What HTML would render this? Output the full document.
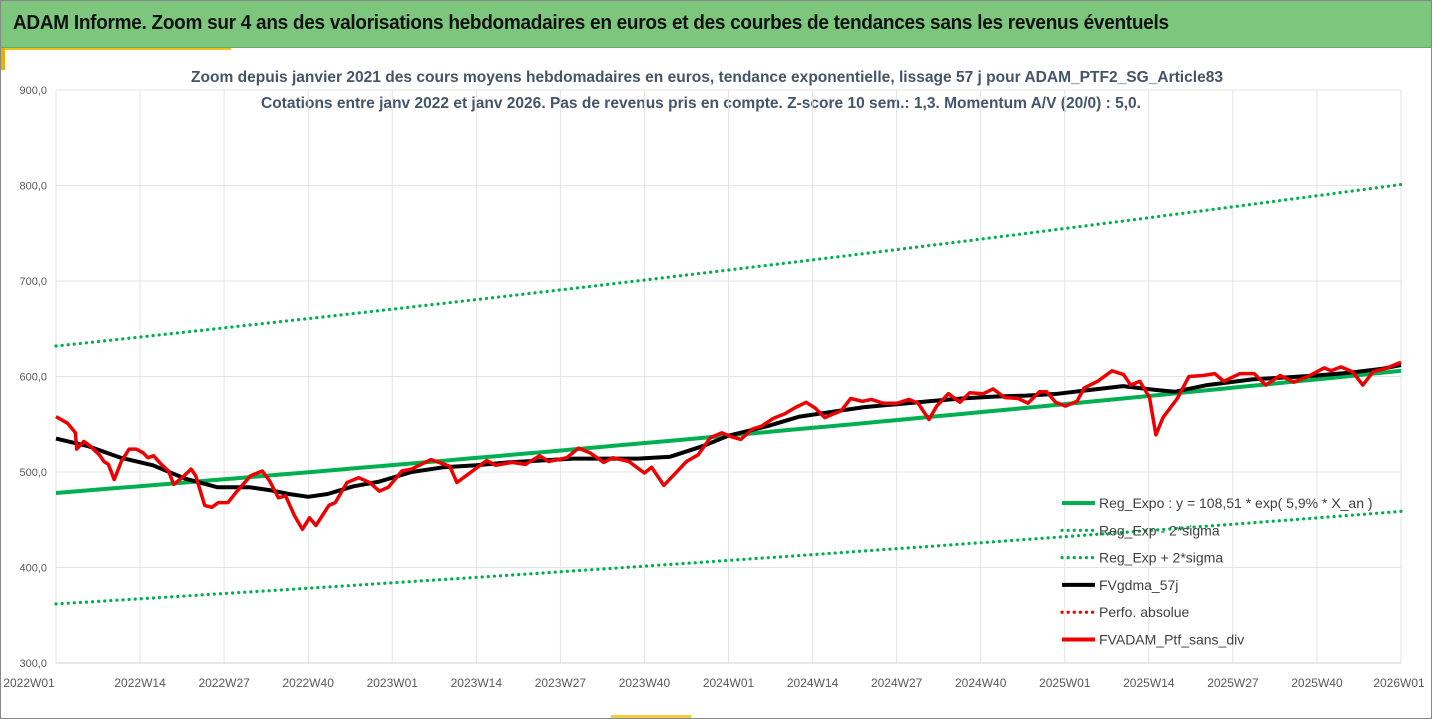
<!DOCTYPE html>
<html><head><meta charset="utf-8"><style>
html,body{margin:0;padding:0;background:#fff;width:1432px;height:719px;overflow:hidden;font-family:"Liberation Sans",sans-serif}
#wrap{position:absolute;left:0;top:0;width:1430px;height:717px;border:1px solid #888}
#hdr{position:absolute;left:0;top:0;width:1430px;height:46px;background:#7dc67d;border-bottom:1px solid #6aa86a}
#hdr span{position:absolute;left:12px;top:11px;font-size:20px;font-weight:bold;color:#111;letter-spacing:-0.3px;transform:scaleX(0.95);transform-origin:left;white-space:nowrap}
</style></head><body>
<div id="wrap">
<div id="hdr"><span>ADAM Informe. Zoom sur 4 ans des valorisations hebdomadaires en euros et des courbes de tendances sans les revenus éventuels</span></div>
<svg id="chart" width="1430" height="717" style="position:absolute;left:0;top:0"></svg>
</div>
<script>
const xTickLabels=["2022W01","2022W14","2022W27","2022W40","2023W01","2023W14","2023W27","2023W40","2024W01","2024W14","2024W27","2024W40","2025W01","2025W14","2025W27","2025W40","2026W01"];
const yTicks=[300,400,500,600,700,800,900];
const trendStart=[478];
const trendRate=[0.0593];
const bandFactors=[0.757,1.322];
const redWeeks=[0,1.8,3,3.2,4.3,5.3,6.7,7.4,8.1,9,10.1,11.3,12.4,13.5,14.2,15.1,16.3,17.4,18.2,19.5,20.9,21.6,23,24.1,25.1,26.6,28,30.1,31.9,33,34.4,35.5,36.9,38.1,39.2,40.2,42.2,43.2,45,46.8,48.5,50,51.4,53.5,55,58,60.9,62,63.4,66.6,68,70.5,72.6,74.8,76.2,79,80.8,82.6,84.7,86.1,88.6,91,92.1,94,95.7,97.5,99.3,101.2,103,104.4,105.9,107.7,109.1,110.9,112.7,114.2,116,117.4,118.9,120.3,121.4,122.9,124.7,126.1,127.9,130.1,131.9,133.3,135,136.2,138,139.8,141.3,143.4,144.9,146.7,148.8,150.3,152.1,153.2,154.6,156.1,157.9,159,161.1,163.3,165.1,166.2,167.6,169.1,170.1,171.2,173.4,175.2,177.4,179.2,180.6,183.1,185.3,187.1,189.3,191.4,193.6,196.1,197.2,198.7,200.5,202.1,203.7,205.9,208];
const redValues=[558,551,541,524,532,527,518,511,508,492,511,524,524,520,515,517,508,501,487,494,503,496,465,463,468,468,480,496,501,491,473,475,454,440,452,444,465,468,489,494,489,480,484,501,503,513,506,489,496,512,507,510,508,517,511,515,525,520,510,515,511,499,505,486,498,511,518,536,541,537,534,545,548,556,561,567,573,567,557,561,564,577,574,576,572,572,576,572,555,569,582,573,583,582,587,578,577,572,584,584,573,569,574,588,595,606,602,591,595,578,539,557,577,600,601,603,595,603,603,591,601,594,600,609,606,610,605,591,605,609,615];
const maWeeks=[0,5,10,15,20,25,30,33,36,39,42,46,50,55,60,65,70,75,80,85,90,95,100,104,110,115,120,125,130,135,140,145,150,155,160,165,170,173,178,185,190,195,200,205,208];
const maValues=[535,527,515,507,493,484,484,481,477,474,477,485,490,500,505,507,510,512,514,514,514,516,527,538,548,558,563,568,571,574,577,579,580,582,586,590,586,584,591,597,599,601,604,608,612];

const svg=document.getElementById('chart');const NS='http://www.w3.org/2000/svg';
const X0=55,X1=1400,Y0=662,Y1=89,WMAX=208,VMIN=300,VMAX=900;
const xs=w=>X0+(X1-X0)*w/WMAX;
const ys=v=>Y0-(Y0-Y1)*(v-VMIN)/(VMAX-VMIN);
function mk(t,a,txt){const e=document.createElementNS(NS,t);for(const k in a)e.setAttribute(k,a[k]);if(txt!=null)e.textContent=txt;svg.appendChild(e);return e;}
mk('rect',{x:0,y:47,width:230,height:2,fill:'#f0c020'});
mk('rect',{x:0,y:47,width:4,height:22,fill:'#e8b000'});
mk('rect',{x:610,y:714,width:80,height:3,fill:'#f0d040'});
let t=mk('text',{x:190,y:81,'font-size':'16','font-weight':'bold',fill:'#44546a',textLength:1032,lengthAdjust:'spacingAndGlyphs'},'Zoom depuis janvier 2021 des cours moyens hebdomadaires  en euros, tendance exponentielle, lissage 57 j pour ADAM_PTF2_SG_Article83');

t=mk('text',{x:260,y:107,'font-size':'16','font-weight':'bold',fill:'#44546a',textLength:880,lengthAdjust:'spacingAndGlyphs'},'Cotations entre janv 2022 et janv 2026. Pas de revenus pris en compte. Z-score 10 sem.: 1,3. Momentum A/V (20/0) : 5,0.');

yTicks.forEach(v=>{const l=mk('line',{x1:X0,x2:X1,y1:ys(v),y2:ys(v),stroke:'#e3e3e3','stroke-width':1});

const tx=mk('text',{x:46,y:ys(v)+4,'text-anchor':'end','font-size':'11',fill:'#595959'},v.toFixed(1).replace('.',','));
});
xTickLabels.forEach((s,i)=>{const w=i*13,x=xs(w);
const l=mk('line',{x1:x,x2:x,y1:Y1,y2:Y0,stroke:'#e3e3e3','stroke-width':1});

const tx=mk('text',{x:i==0?x-27:(i==16?x-2:x),y:686,'text-anchor':'middle','font-size':'12',fill:'#595959'},s);
});
mk('line',{x1:X0,x2:X1,y1:Y0,y2:Y0,stroke:'#d0d0d0'});
function trend(w,f){return trendStart[0]*Math.exp(trendRate[0]*w/52)*f;}
function trendPts(f){let p=[];for(let w=0;w<=WMAX;w+=4)p.push(xs(w).toFixed(1)+','+ys(trend(w,f)).toFixed(1));return p.join(' ');}
let e=mk('polyline',{points:trendPts(bandFactors[1]),fill:'none',stroke:'#00b050','stroke-width':3.2,'stroke-dasharray':'0.1 6','stroke-linecap':'round'});

e=mk('polyline',{points:trendPts(bandFactors[0]),fill:'none',stroke:'#00b050','stroke-width':3.2,'stroke-dasharray':'0.1 6','stroke-linecap':'round'});

e=mk('polyline',{points:trendPts(1),fill:'none',stroke:'#00b050','stroke-width':4});

e=mk('polyline',{points:maWeeks.map((w,i)=>xs(w).toFixed(1)+','+ys(maValues[i]).toFixed(1)).join(' '),fill:'none',stroke:'#000','stroke-width':4,'stroke-linejoin':'round'});

e=mk('polyline',{points:redWeeks.map((w,i)=>xs(w).toFixed(1)+','+ys(redValues[i]).toFixed(1)).join(' '),fill:'none',stroke:'#ee0000','stroke-width':3.5,'stroke-linejoin':'round'});

const leg=[['Reg_Expo : y = 108,51 * exp( 5,9% *  X_an )','#00b050',false],['Reg_Exp - 2*sigma','#00b050',true],['Reg_Exp + 2*sigma','#00b050',true],['FVgdma_57j','#000',false],['Perfo. absolue','#ee0000',true],['FVADAM_Ptf_sans_div','#ee0000',false]];
leg.forEach((g,i)=>{const y=502+i*27.3;
const l=mk('line',{x1:1061,x2:1094,y1:y,y2:y,stroke:g[1],'stroke-width':g[2]?3.2:4,'stroke-dasharray':g[2]?'0.1 6':'none','stroke-linecap':g[2]?'round':'butt'});

const tx=mk('text',{x:1098,y:y+5,'font-size':'14',fill:'#404040'},g[0]);
});
</script>
</body></html>
